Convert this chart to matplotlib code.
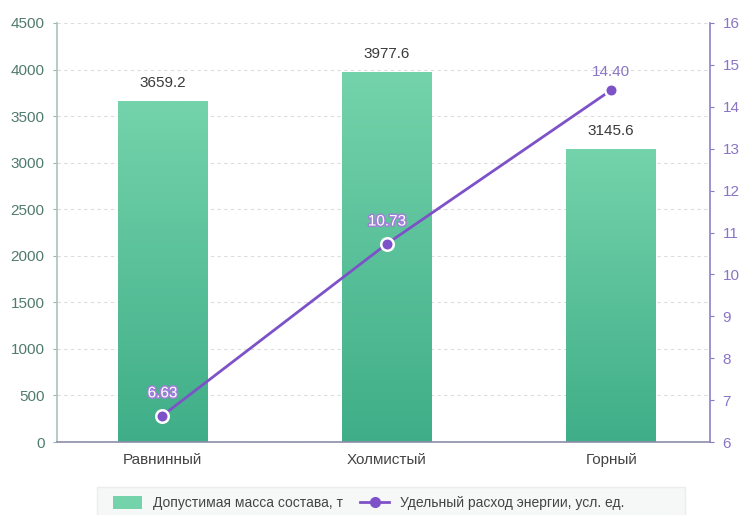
import numpy as np
import matplotlib
matplotlib.use("Agg")
import matplotlib.pyplot as plt
import matplotlib.patheffects as pe
from matplotlib.colors import LinearSegmentedColormap
from matplotlib.patches import Patch, Rectangle
from matplotlib.lines import Line2D

plt.rcParams['font.family'] = ['Liberation Sans', 'DejaVu Sans']

categories = ["Равнинный", "Холмистый", "Горный"]
mass = [3659.2, 3977.6, 3145.6]
energy = [6.63, 10.73, 14.40]
mass_label = "Допустимая масса состава, т"
energy_label = "Удельный расход энергии, усл. ед."

green_top = "#74d3ab"
green_bot = "#3fae88"
purple = "#7d52c8"
purple_txt = "#8a74c6"
green_txt = "#4f7b6e"

W, H = 743, 515
fig = plt.figure(figsize=(W / 100, H / 100), dpi=100)
ax = fig.add_axes([57 / W, 1 - 442 / H, (710 - 57) / W, (442 - 23) / H])

x = np.arange(len(categories))
ax.set_xlim(-0.47, 2.44)
ax.set_ylim(0, 4500)

bars = ax.bar(x, mass, width=0.40, color=green_bot, zorder=2)
cmap = LinearSegmentedColormap.from_list("g", [green_bot, green_top])
grad = np.linspace(0, 1, 256).reshape(-1, 1)
for b in bars:
    x0, y0 = b.get_x(), b.get_y()
    im = ax.imshow(grad, cmap=cmap, aspect="auto", origin="lower",
                   extent=[x0, x0 + b.get_width(), y0, y0 + b.get_height()],
                   zorder=2.1)
    im.set_clip_path(b)
ax.set_xlim(-0.47, 2.44)
ax.set_ylim(0, 4500)

for xi, v in zip(x, mass):
    ax.annotate(f"{v:.1f}", (xi, v), xytext=(0, 8), textcoords="offset points",
                ha="center", va="bottom", fontsize=11, color="#3a3a3a", zorder=5)

ax.set_yticks(np.arange(0, 4501, 500))
ax.grid(axis="y", linestyle=(0, (3, 3)), color="#dcdcdc", linewidth=0.8, zorder=0)
ax.set_axisbelow(True)
ax.set_xticks(x)
ax.set_xticklabels(categories, fontsize=11, color="#444444")
ax.tick_params(axis="x", length=0, pad=8)
ax.tick_params(axis="y", colors="#9bb5ad", labelcolor=green_txt, labelsize=11, length=3, pad=6)
for s in ["top", "right"]:
    ax.spines[s].set_visible(False)
ax.spines["left"].set_color("#a9c2ba")
ax.spines["left"].set_linewidth(1.2)
ax.spines["bottom"].set_color("#8c8ca8")
ax.spines["bottom"].set_linewidth(1.2)

ax2 = ax.twinx()
ax2.set_ylim(6, 16)
ax2.set_yticks(np.arange(6, 17, 1))
ax2.plot(x, energy, color=purple, linewidth=2, marker="o", markersize=9,
         markerfacecolor=purple, markeredgecolor="white", markeredgewidth=1.8, zorder=6)
for i, (xi, v) in enumerate(zip(x, energy)):
    if i < 2:
        ax2.annotate(f"{v:.2f}", (xi, v), xytext=(0, 11), textcoords="offset points",
                     ha="center", va="bottom", fontsize=11, color="white", zorder=7,
                     path_effects=[pe.withStroke(linewidth=2.2, foreground="#a07fd8")])
    else:
        ax2.annotate(f"{v:.2f}", (xi, v), xytext=(0, 8), textcoords="offset points",
                     ha="center", va="bottom", fontsize=11, color=purple_txt, zorder=7)
ax2.tick_params(axis="y", colors="#8a78c4", labelcolor=purple_txt, labelsize=11, length=3, pad=6)
for s in ["top", "left", "bottom"]:
    ax2.spines[s].set_visible(False)
ax2.spines["right"].set_color("#8f7fc8")
ax2.spines["right"].set_linewidth(1.2)

# legend panel at the bottom
fig.patches.append(Rectangle((97 / W, -0.05), 588 / W, 0.05 + (515 - 487) / H,
                             transform=fig.transFigure, facecolor="#f6f7f7",
                             edgecolor="#ececec", linewidth=1, zorder=0))
handles = [Patch(facecolor=green_top, edgecolor="none"),
           Line2D([0], [0], color=purple, linewidth=2, marker="o", markersize=7,
                  markerfacecolor=purple, markeredgecolor=purple)]
leg = fig.legend(handles, [mass_label, energy_label], loc="center left",
                 bbox_to_anchor=(113 / W, 1 - 503 / H), ncol=2, fontsize=10,
                 frameon=False, borderpad=0, borderaxespad=0,
                 handlelength=2.1, handleheight=1.1, handletextpad=0.8,
                 columnspacing=1.2)
for t in leg.get_texts():
    t.set_color("#444444")

fig.savefig("out.png", dpi=100)
